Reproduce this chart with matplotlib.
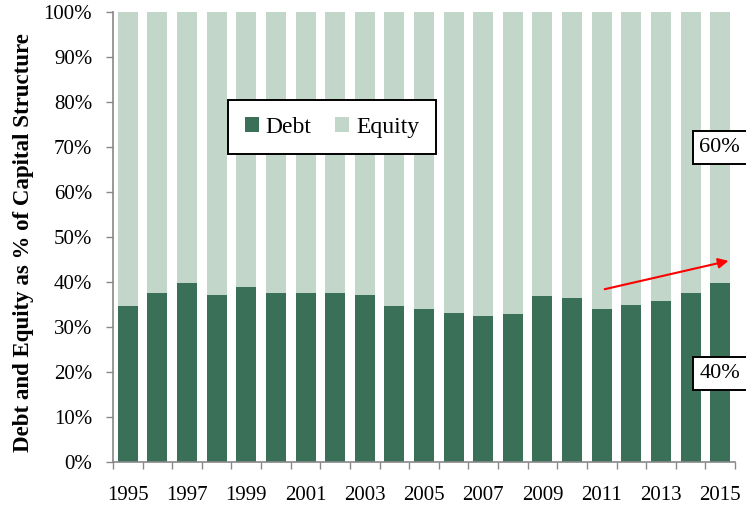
import matplotlib
matplotlib.use("Agg")
import matplotlib.pyplot as plt
import numpy as np

years = list(range(1995, 2016))
debt = [34.7, 37.6, 39.8, 37.2, 39.0, 37.6, 37.6, 37.6, 37.2, 34.6, 33.9,
        33.2, 32.4, 32.8, 36.8, 36.4, 33.9, 35.0, 35.7, 37.6, 39.8]
equity = [100 - d for d in debt]
ytick_vals = list(range(0, 101, 10))
ytick_labels = [f"{v}%" for v in ytick_vals]
label_years = [y for y in years if (y - 1995) % 2 == 0]

plt.rcParams['font.family'] = ['Liberation Serif', 'DejaVu Serif']

debt_color = "#3A7058"
eq_color = "#C2D6CA"

W, H = 746, 505
fig = plt.figure(figsize=(W / 100, H / 100), dpi=100)
ax = fig.add_axes([113 / W, 43 / H, 622 / W, 450 / H])

x = np.arange(len(years))
ax.bar(x, debt, width=0.675, color=debt_color, label="Debt")
ax.bar(x, equity, bottom=debt, width=0.675, color=eq_color, label="Equity")

ax.set_xlim(-0.5, len(years) - 0.5)
ax.set_ylim(0, 100)

ax.set_yticks(ytick_vals)
ax.set_yticklabels(ytick_labels, fontsize=15)
ax.tick_params(axis='y', length=5, width=1, color='#888888', pad=10)

ax.set_xticks(np.arange(-0.5, len(years), 1.0))
ax.set_xticklabels([])
ax.tick_params(axis='x', which='major', length=5, width=1, color='#888888')
ax.set_xticks([years.index(y) for y in label_years], minor=True)
ax.set_xticklabels([str(y) for y in label_years], minor=True, fontsize=15)
ax.tick_params(axis='x', which='minor', length=0, pad=17)

for s in ['top', 'right']:
    ax.spines[s].set_visible(False)
for s in ['left', 'bottom']:
    ax.spines[s].set_color('#888888')
    ax.spines[s].set_linewidth(1.2)

fig.text(24 / W, 1 - 243 / H, "Debt and Equity as % of Capital Structure",
         fontsize=16.5, fontweight='bold', rotation=90, ha='center', va='center')

leg = ax.legend(loc='upper left', bbox_to_anchor=((228 - 113) / 622, (462 - 100) / 450),
                borderaxespad=0, ncol=2, fontsize=17, frameon=True, fancybox=False,
                handlelength=0.6, handleheight=0.6, handletextpad=0.3,
                columnspacing=1.0, borderpad=0.7)
leg.get_frame().set_edgecolor('black')
leg.get_frame().set_linewidth(1.4)
leg.get_frame().set_alpha(1)

bbox = dict(boxstyle='square,pad=0.3', fc='white', ec='black', lw=1.4)
ax.text(19.3, 69.9, "60%", fontsize=16, ha='left', va='center', bbox=bbox, clip_on=False)
ax.text(19.3, 19.7, "40%", fontsize=16, ha='left', va='center', bbox=bbox, clip_on=False)

ax.annotate("", xy=(20.28, 44.7), xytext=(16.1, 38.4),
            arrowprops=dict(arrowstyle='-|>', color='red', lw=1.5,
                            mutation_scale=15, shrinkA=0, shrinkB=0))

fig.savefig("out.png", dpi=100)
